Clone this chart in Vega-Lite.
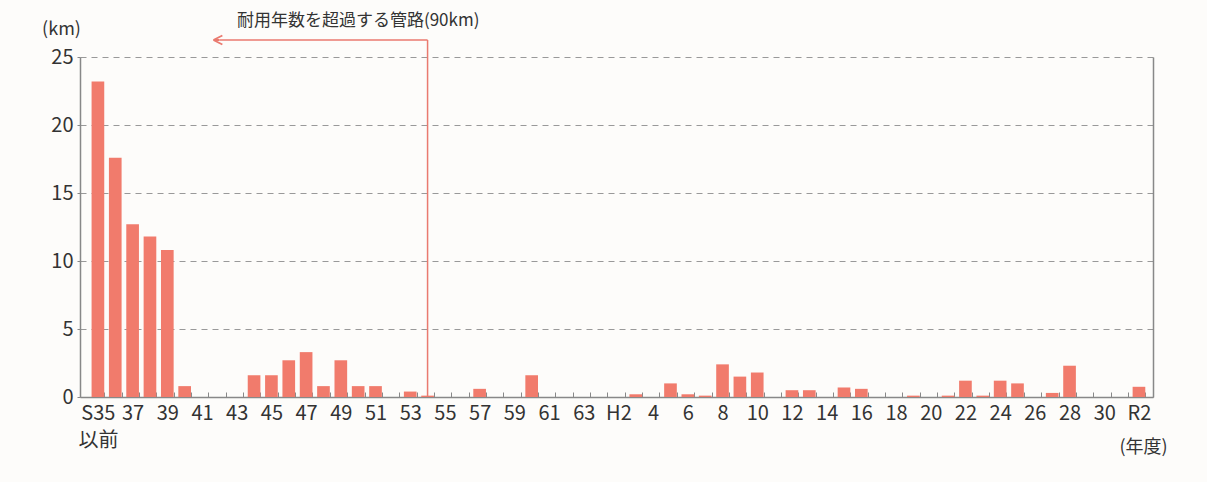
{
  "$schema": "https://vega.github.io/schema/vega-lite/v6.json",
  "width": 1073,
  "height": 340,
  "autosize": {"type": "none"},
  "padding": {"left": 80, "top": 57, "right": 54, "bottom": 85},
  "background": "#FDFCFA",
  "config": {
    "font": "Noto Sans CJK JP",
    "view": {"stroke": null}
  },
  "layer": [
    {
      "data": {"values": [
        {"year": "S35", "km": 23.2}, {"year": "36", "km": 17.6}, {"year": "37", "km": 12.7}, {"year": "38", "km": 11.8},
        {"year": "39", "km": 10.8}, {"year": "40", "km": 0.8}, {"year": "41", "km": 0}, {"year": "42", "km": 0},
        {"year": "43", "km": 0}, {"year": "44", "km": 1.6}, {"year": "45", "km": 1.6}, {"year": "46", "km": 2.7},
        {"year": "47", "km": 3.3}, {"year": "48", "km": 0.8}, {"year": "49", "km": 2.7}, {"year": "50", "km": 0.8},
        {"year": "51", "km": 0.8}, {"year": "52", "km": 0}, {"year": "53", "km": 0.4}, {"year": "54", "km": 0.1},
        {"year": "55", "km": 0}, {"year": "56", "km": 0}, {"year": "57", "km": 0.6}, {"year": "58", "km": 0},
        {"year": "59", "km": 0}, {"year": "60", "km": 1.6}, {"year": "61", "km": 0}, {"year": "62", "km": 0},
        {"year": "63", "km": 0}, {"year": "H1", "km": 0}, {"year": "H2", "km": 0}, {"year": "3", "km": 0.2},
        {"year": "4", "km": 0}, {"year": "5", "km": 1.0}, {"year": "6", "km": 0.2}, {"year": "7", "km": 0.1},
        {"year": "8", "km": 2.4}, {"year": "9", "km": 1.5}, {"year": "10", "km": 1.8}, {"year": "11", "km": 0},
        {"year": "12", "km": 0.5}, {"year": "13", "km": 0.5}, {"year": "14", "km": 0}, {"year": "15", "km": 0.7},
        {"year": "16", "km": 0.6}, {"year": "17", "km": 0}, {"year": "18", "km": 0}, {"year": "19", "km": 0.1},
        {"year": "20", "km": 0}, {"year": "21", "km": 0.1}, {"year": "22", "km": 1.2}, {"year": "23", "km": 0.1},
        {"year": "24", "km": 1.2}, {"year": "25", "km": 1.0}, {"year": "26", "km": 0}, {"year": "27", "km": 0.3},
        {"year": "28", "km": 2.3}, {"year": "29", "km": 0}, {"year": "30", "km": 0}, {"year": "31", "km": 0},
        {"year": "R2", "km": 0.75}
      ]},
      "mark": {"type": "bar", "color": "#F17B6C"},
      "encoding": {
        "x": {
          "field": "year", "type": "nominal", "sort": null,
          "scale": {"paddingInner": 0.27, "paddingOuter": 0.556, "align": 0.6},
          "axis": {
            "title": "(年度)", "titleFontSize": 18, "titleFontWeight": "normal", "titleColor": "#333333",
            "titleX": 1063, "titleY": 50, "titleAlign": "center", "titleBaseline": "middle",
            "labelAngle": 0, "labelFontSize": 20, "labelColor": "#333333", "labelPadding": 11,
            "labelOverlap": false, "labelBaseline": "top", "labelLineHeight": 27,
            "labelExpr": "datum.value == 'S35' ? ['S35', '以前'] : (indexof(['37','39','41','43','45','47','49','51','53','55','57','59','61','63','H2','4','6','8','10','12','14','16','18','20','22','24','26','28','30','R2'], datum.value) >= 0 ? datum.value : '')",
            "tickBand": "extent", "tickSize": -5, "tickColor": "#888888", "tickWidth": 1,
            "domainColor": "#888888", "domainWidth": 1.5, "grid": false
          }
        },
        "y": {
          "field": "km", "type": "quantitative",
          "scale": {"domain": [0, 25], "nice": false},
          "axis": {
            "values": [0, 5, 10, 15, 20, 25],
            "title": "(km)", "titleAngle": 0, "titleFontSize": 18, "titleFontWeight": "normal", "titleColor": "#333333",
            "titleX": -19, "titleY": -28, "titleAlign": "center", "titleBaseline": "middle",
            "labelFontSize": 20, "labelColor": "#333333", "labelPadding": 4,
            "tickSize": 3, "tickColor": "#888888",
            "domainColor": "#888888", "domainWidth": 1.5,
            "grid": true, "gridColor": "#999999", "gridDash": [6, 5], "gridWidth": 1
          }
        }
      }
    },
    {
      "data": {"values": [{"km": 0}]},
      "mark": {"type": "rule", "opacity": 0},
      "encoding": {
        "y": {
          "field": "km", "type": "quantitative",
          "scale": {"domain": [0, 25], "nice": false},
          "axis": {"orient": "right", "labels": false, "ticks": false, "title": null, "grid": false, "domainColor": "#888888", "domainWidth": 1.5}
        }
      }
    },
    {
      "data": {"values": [{"year": "54", "y0": 0, "y1": 26.25}]},
      "mark": {"type": "rule", "color": "#EA7A6F", "strokeWidth": 1.5, "clip": false},
      "encoding": {
        "x": {"field": "year", "type": "nominal", "sort": null},
        "y": {"field": "y0", "type": "quantitative", "scale": {"domain": [0, 25], "nice": false}, "axis": null},
        "y2": {"field": "y1"}
      }
    },
    {
      "data": {"values": [{"from": "42", "to": "54", "y": 26.25}]},
      "mark": {"type": "rule", "color": "#EA7A6F", "strokeWidth": 1.5, "clip": false},
      "encoding": {
        "x": {"field": "from", "type": "nominal", "sort": null},
        "x2": {"field": "to"},
        "y": {"field": "y", "type": "quantitative", "scale": {"domain": [0, 25], "nice": false}, "axis": null}
      }
    },
    {
      "data": {"values": [{"year": "42", "y": 26.25}]},
      "mark": {"type": "point", "shape": "M-1,0L0.5,-0.75M-1,0L0.5,0.75M-1,0L0,0", "size": 144, "filled": false, "stroke": "#EA7A6F", "strokeWidth": 1.8, "opacity": 1, "clip": false},
      "encoding": {
        "x": {"field": "year", "type": "nominal", "sort": null},
        "y": {"field": "y", "type": "quantitative", "scale": {"domain": [0, 25], "nice": false}, "axis": null}
      }
    },
    {
      "data": {"values": [{"year": "50", "y": 27.65, "label": "耐用年数を超過する管路(90km)"}]},
      "mark": {"type": "text", "fontSize": 17, "color": "#333333", "align": "center", "baseline": "middle", "clip": false},
      "encoding": {
        "x": {"field": "year", "type": "nominal", "sort": null},
        "y": {"field": "y", "type": "quantitative", "scale": {"domain": [0, 25], "nice": false}, "axis": null},
        "text": {"field": "label"}
      }
    }
  ],
  "resolve": {"scale": {"y": "shared"}, "axis": {"y": "independent"}}
}
